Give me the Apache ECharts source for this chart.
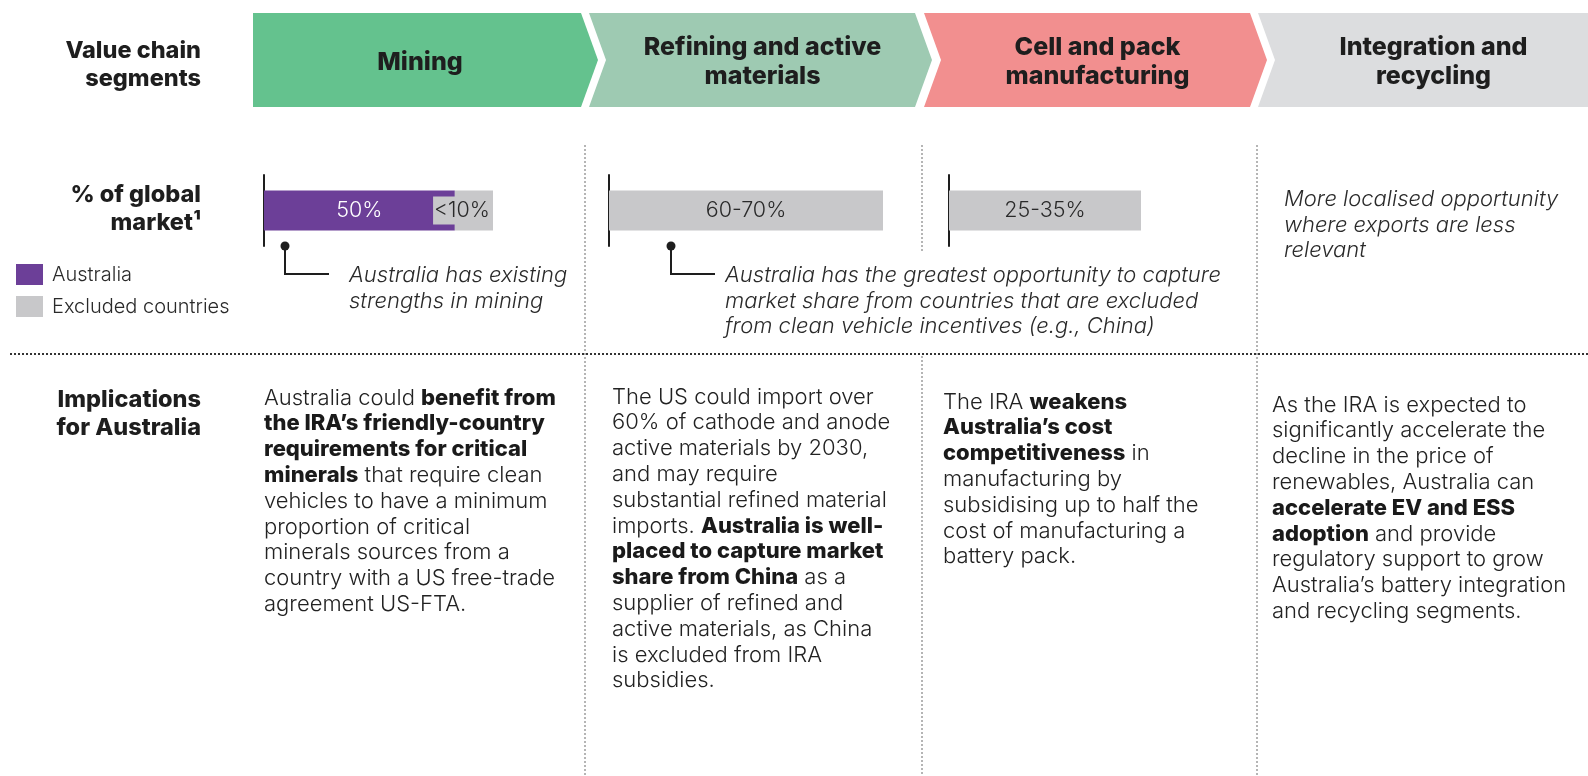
<!DOCTYPE html>
<html>
<head>
<meta charset="utf-8">
<script src="https://cdn.jsdelivr.net/npm/echarts@6/dist/echarts.min.js"></script>
<style>
  html, body { margin: 0; padding: 0; background: #fff; }
  #chart { width: 1588px; height: 776px; }
</style>
</head>
<body>
<div id="chart"></div>
<script>
// value chain segments (chevrons)
const segments = ['Mining', 'Refining and active\nmaterials', 'Cell and pack\nmanufacturing', 'Integration and\nrecycling'];
const segmentColors = ['#64c28e', '#9ecab2', '#f28f8f', '#dcdddf'];

// % of global market, one bar per segment (integration has none)
const australiaShare = [50, null, null];
const excludedShare = [10, 70, 35];
const australiaLabels = ['50%', '', ''];
const excludedLabels = ['<10%', '60-70%', '25-35%'];

const legendNames = ['Australia', 'Excluded countries'];

const FONT = 'Inter, Roboto, "Noto Sans", sans-serif';
const PURPLE = '#6c3f98';
const GREY = '#c8c8ca';

// chevron outline, x positions in px
const chevronX = [[253, 581], [589, 915], [924, 1250], [1258, 1588]];
const tip = 17, topY = 13, botY = 107, midY = 60;

let graphics = [];

chevronX.forEach((c, i) => {
  let pts = [];
  pts.push([c[0], topY]);
  if (i === 3) {
    pts.push([c[1], topY], [c[1], botY]);
  } else {
    pts.push([c[1], topY], [c[1] + tip, midY], [c[1], botY]);
  }
  pts.push([c[0], botY]);
  if (i > 0) pts.push([c[0] + tip, midY]);
  graphics.push({
    type: 'polygon',
    shape: { points: pts },
    style: { fill: segmentColors[i] }
  });
  let cx = i === 0 ? 420 : (c[0] + c[1] + tip) / 2 + 2;
  graphics.push({
    type: 'text',
    x: cx,
    y: i === 0 ? midY + 2 : 62,
    style: {
      text: segments[i],
      fontFamily: FONT, fontSize: 25, fontWeight: 800,
      fill: '#1e1e1e', lineHeight: 29,
      textAlign: 'center', textVerticalAlign: 'middle'
    }
  });
});

// row headings
function heading(text, y) {
  return {
    type: 'text', x: 201, y: y,
    style: {
      text: text, fontFamily: FONT, fontSize: 23.5, fontWeight: 800,
      fill: '#1e1e1e', lineHeight: 28.5,
      textAlign: 'right', textVerticalAlign: 'middle'
    }
  };
}
graphics.push(heading('Value chain\nsegments', 65));
graphics.push(heading('% of global\nmarket¹', 209));
graphics.push(heading('Implications\nfor Australia', 414));

// separators (the middle one breaks where the refining note crosses it)
const sepRuns = [[585, 145, 776], [922, 145, 252], [922, 356, 776], [1257, 145, 776]];
sepRuns.forEach(s => {
  graphics.push({
    type: 'line',
    shape: { x1: s[0], y1: s[1], x2: s[0], y2: s[2] },
    style: { stroke: '#b5b5b5', lineWidth: 2, lineDash: [2, 2] }
  });
});
graphics.push({
  type: 'line',
  shape: { x1: 10, y1: 354, x2: 1588, y2: 354 },
  style: { stroke: '#333', lineWidth: 2, lineDash: [2, 2] }
});

// callouts
function callout(x, xEnd) {
  graphics.push({
    type: 'polyline',
    shape: { points: [[x, 246], [x, 274], [xEnd, 274]] },
    style: { stroke: '#1e1e1e', lineWidth: 2, fill: null }
  });
  graphics.push({
    type: 'circle',
    shape: { cx: x, cy: 246, r: 4.5 },
    style: { fill: '#1e1e1e' }
  });
}
callout(285, 329);
callout(671, 715);

function note(text, x, y) {
  return {
    type: 'text', x: x, y: y,
    style: {
      text: text, fontFamily: FONT, fontSize: 22, fontStyle: 'italic', fontWeight: 300,
      fill: '#2a2a2a', lineHeight: 25.5,
      textAlign: 'left', textVerticalAlign: 'top'
    }
  };
}
graphics.push(note('Australia has existing\nstrengths in mining', 349, 263));
graphics.push(note('Australia has the greatest opportunity to capture\nmarket share from countries that are excluded\nfrom clean vehicle incentives (e.g., China)', 725, 263));
graphics.push(note('More localised opportunity\nwhere exports are less\nrelevant', 1284, 187));

// implications text
const implications = [
  ['Australia could {b|benefit from}',
   '{b|the IRA’s friendly-country}',
   '{b|requirements for critical}',
   '{b|minerals} that require clean',
   'vehicles to have a minimum',
   'proportion of critical',
   'minerals sources from a',
   'country with a US free-trade',
   'agreement US-FTA.'],
  ['The US could import over',
   '60% of cathode and anode',
   'active materials by 2030,',
   'and may require',
   'substantial refined material',
   'imports. {b|Australia is well-}',
   '{b|placed to capture market}',
   '{b|share from China} as a',
   'supplier of refined and',
   'active materials, as China',
   'is excluded from IRA',
   'subsidies.'],
  ['The IRA {b|weakens}',
   '{b|Australia’s cost}',
   '{b|competitiveness} in',
   'manufacturing by',
   'subsidising up to half the',
   'cost of manufacturing a',
   'battery pack.'],
  ['As the IRA is expected to',
   'significantly accelerate the',
   'decline in the price of',
   'renewables, Australia can',
   '{b|accelerate EV and ESS}',
   '{b|adoption} and provide',
   'regulatory support to grow',
   'Australia’s battery integration',
   'and recycling segments.']
];
const implX = [264, 612, 943, 1272];
const implY = [385, 384, 389, 392];
implications.forEach((lines, i) => {
  graphics.push({
    type: 'text', x: implX[i], y: implY[i],
    style: {
      text: lines.join('\n'),
      fontFamily: FONT, fontSize: 22, fontWeight: 300,
      fill: '#222', lineHeight: 25.8,
      textAlign: 'left', textVerticalAlign: 'top',
      rich: {
        b: { fontFamily: FONT, fontSize: 22, fontWeight: 800, fill: '#1a1a1a', lineHeight: 25.8 }
      }
    }
  });
});

// bar grids
const barLeft = [264, 609, 949];
const barWidthPx = [229, 274, 192];
let grids = [], xAxes = [], yAxes = [], series = [];
barLeft.forEach((l, i) => {
  grids.push({ left: l, top: 175, width: barWidthPx[i], height: 71 });
  xAxes.push({
    type: 'value', gridIndex: i, min: 0,
    max: (australiaShare[i] || 0) + excludedShare[i],
    show: false
  });
  yAxes.push({
    type: 'category', gridIndex: i, data: [''],
    axisLine: { show: true, lineStyle: { color: '#1e1e1e', width: 2 } },
    axisTick: { show: false },
    axisLabel: { show: false }
  });
  if (australiaShare[i] != null) {
    series.push({
      name: legendNames[0], type: 'bar', xAxisIndex: i, yAxisIndex: i,
      stack: 's' + i, barWidth: 40,
      itemStyle: { color: PURPLE },
      label: {
        show: true, position: 'inside', formatter: australiaLabels[i],
        color: '#fff', fontFamily: FONT, fontSize: 21.5, fontWeight: 300
      },
      data: [australiaShare[i]]
    });
  }
  series.push({
    name: legendNames[1], type: 'bar', xAxisIndex: i, yAxisIndex: i,
    stack: 's' + i, barWidth: 40,
    itemStyle: { color: GREY },
    label: australiaShare[i] != null ? {
      show: true, position: 'insideRight', distance: 2, formatter: excludedLabels[i],
      color: '#2a2a2a', fontFamily: FONT, fontSize: 21.5, fontWeight: 300,
      backgroundColor: GREY, padding: [3, 1]
    } : {
      show: true, position: 'inside', formatter: excludedLabels[i],
      color: '#2a2a2a', fontFamily: FONT, fontSize: 21.5, fontWeight: 300
    },
    data: [excludedShare[i]]
  });
});

let option = {
  animation: false,
  backgroundColor: '#fff',
  legend: {
    data: legendNames,
    orient: 'vertical',
    left: 16, top: 264, padding: 0,
    icon: 'rect',
    itemWidth: 27, itemHeight: 21, itemGap: 11,
    selectedMode: false,
    textStyle: { fontFamily: FONT, fontSize: 20, fontWeight: 300, color: '#2a2a2a', padding: [0, 0, 0, 4] }
  },
  grid: grids,
  xAxis: xAxes,
  yAxis: yAxes,
  series: series,
  graphic: graphics
};

let chart = echarts.init(document.getElementById('chart'));
chart.setOption(option);
</script>
</body>
</html>
